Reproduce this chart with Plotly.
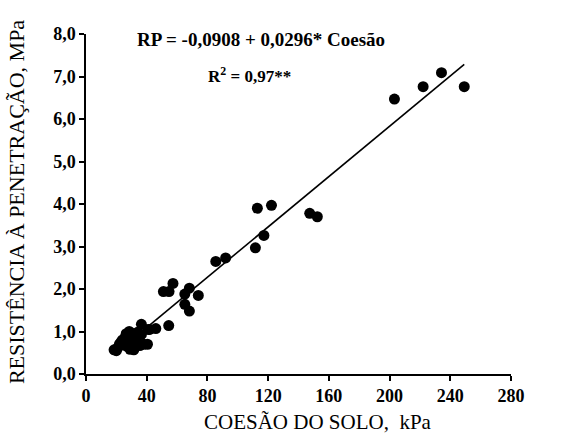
import plotly.graph_objects as go

# Soil cohesion (kPa) and penetration resistance (MPa) observations
coesao = [18.5, 20, 21, 22, 23, 24, 25, 26, 26.5, 27, 28, 28.5, 29, 29.5, 30,
          31, 31.5, 33, 34, 35.5, 36.5, 36.5, 38, 40.5, 41, 42, 46, 54.5,
          51, 54.7, 57.3, 65.1, 68.1, 74, 65.1, 68.1,
          85.5, 92, 111.6, 117.2, 112.9, 122.2, 147.4, 152.4,
          203.2, 222.1, 234.2, 249.2]
resistencia = [0.57, 0.55, 0.62, 0.70, 0.75, 0.80, 0.72, 0.88, 0.95, 0.65, 0.78, 1.00, 0.58, 0.88, 0.72,
               0.95, 0.57, 0.85, 0.98, 0.67, 1.17, 0.93, 0.70, 0.70, 1.05, 1.05, 1.07, 1.14,
               1.94, 1.94, 2.13, 1.88, 2.02, 1.85, 1.64, 1.48,
               2.65, 2.73, 2.97, 3.26, 3.90, 3.97, 3.78, 3.70,
               6.47, 6.76, 7.09, 6.76]

# Fitted regression RP = a + b * Coesão
a, b = -0.0908, 0.0296
x_fit = [min(coesao), max(coesao)]
y_fit = [a + b * v for v in x_fit]

x_ticks = [0, 40, 80, 120, 160, 200, 240, 280]
y_ticks = [0, 1, 2, 3, 4, 5, 6, 7, 8]
y_tick_text = [f"{v:.1f}".replace(".", ",") for v in y_ticks]

serif = "Liberation Serif, Times New Roman, serif"

fig = go.Figure()
fig.add_trace(go.Scatter(x=x_fit, y=y_fit, mode="lines",
                         line=dict(color="black", width=1.6), showlegend=False))
fig.add_trace(go.Scatter(x=coesao, y=resistencia, mode="markers",
                         marker=dict(color="black", size=11), showlegend=False))

# Regression equation and coefficient of determination
fig.add_annotation(x=115, y=7.86, xref="x", yref="y", xanchor="center", yanchor="middle",
                   text="<b>RP = -0,0908 + 0,0296* Coesão</b>", showarrow=False,
                   font=dict(family=serif, size=19, color="black"))
fig.add_annotation(x=108, y=7.04, xref="x", yref="y", xanchor="center", yanchor="middle",
                   text="<b>R<sup>2</sup> = 0,97**</b>", showarrow=False,
                   font=dict(family=serif, size=17, color="black"))

# Axis titles
fig.add_annotation(x=0.546, y=-0.14, xref="paper", yref="paper", xanchor="center", yanchor="middle",
                   text="COESÃO DO SOLO,  kPa", showarrow=False,
                   font=dict(family=serif, size=21, color="black"))
fig.add_annotation(x=-0.162, y=0.506, xref="paper", yref="paper", xanchor="center", yanchor="middle",
                   text="RESISTÊNCIA À PENETRAÇÃO, MPa", showarrow=False, textangle=-90,
                   font=dict(family=serif, size=22, color="black"))

fig.update_layout(
    width=573, height=437,
    margin=dict(l=86, r=62, t=34, b=63),
    plot_bgcolor="white", paper_bgcolor="white",
    font=dict(family=serif, color="black"),
    xaxis=dict(range=[0, 280], tickvals=x_ticks, ticktext=[f"<b>{v}</b>" for v in x_ticks],
               showgrid=False, zeroline=False, showline=True, linecolor="black", linewidth=1.5,
               ticks="outside", ticklen=5, tickwidth=1.5, tickcolor="black",
               tickfont=dict(family=serif, size=18, color="black")),
    yaxis=dict(range=[0, 8], tickvals=y_ticks, ticktext=[f"<b>{t}</b>" for t in y_tick_text],
               showgrid=False, zeroline=False, showline=True, linecolor="black", linewidth=1.5,
               ticks="outside", ticklen=5, tickwidth=1.5, tickcolor="black",
               tickfont=dict(family=serif, size=18, color="black")),
)

fig.write_html("out.html")
